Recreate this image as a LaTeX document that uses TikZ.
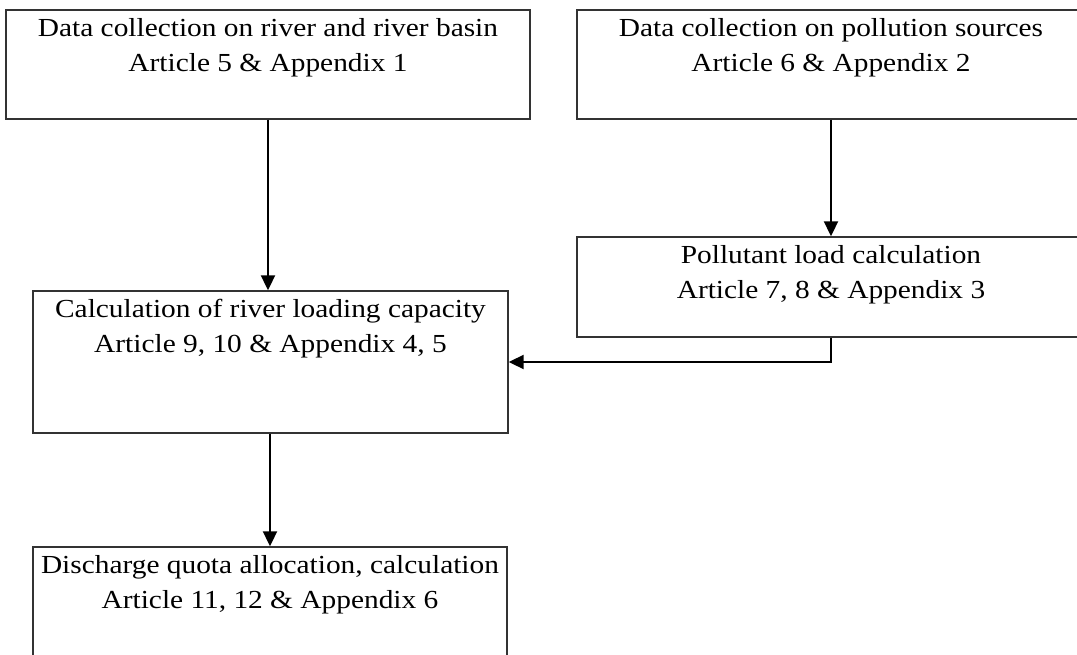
\documentclass[tikz,border=0pt]{standalone}
\usepackage{fontspec}
\setmainfont{Liberation Serif}[FakeStretch=1.13]
\usetikzlibrary{arrows.meta}
\begin{document}
\begin{tikzpicture}[x=1pt,y=-1pt,
  stagebox/.style={draw=black!80,line width=1.4pt,rectangle,inner sep=0pt},
  stagetext/.style={anchor=north,align=center,inner sep=0pt,
    font=\fontsize{26}{35}\selectfont},
  flow/.style={line width=2pt,-{Triangle[length=15pt,width=14pt]}}]
\useasboundingbox (0,0) rectangle (1077,654);
% process boxes (fixed sizes, text hung from the top edge)
\node[stagebox,minimum width=524pt,minimum height=109pt] (b1) at (268,64.5) {};
\node[stagebox,minimum width=508pt,minimum height=109pt] (b2) at (831,64.5) {};
\node[stagebox,minimum width=508pt,minimum height=100pt] (b3) at (831,287) {};
\node[stagebox,minimum width=475pt,minimum height=142pt] (b4) at (270.5,362) {};
\node[stagebox,minimum width=474pt,minimum height=142pt] (b5) at (270,618) {};
% box captions
\node[stagetext] (t1) at ([yshift=-9pt]b1.north) {Data collection on river and river basin\\Article 5 \& Appendix 1};
\node[stagetext] (t2) at ([yshift=-9pt]b2.north) {Data collection on pollution sources\\Article 6 \& Appendix 2};
\node[stagetext] (t3) at ([yshift=-9pt]b3.north) {Pollutant load calculation\\Article 7, 8 \& Appendix 3};
\node[stagetext] (t4) at ([yshift=-9pt]b4.north) {Calculation of river loading capacity\\Article 9, 10 \& Appendix 4, 5};
\node[stagetext] (t5) at ([yshift=-9pt]b5.north) {Discharge quota allocation, calculation\\Article 11, 12 \& Appendix 6};
% connectors
\draw[flow] (b1.south) -- (b1.south |- b4.north);
\draw[flow] (b2.south) -- (b3.north);
\draw[flow] (b3.south) |- (b4.east);
\draw[flow] (b5.north |- b4.south) -- (b5.north);
\end{tikzpicture}
\end{document}
